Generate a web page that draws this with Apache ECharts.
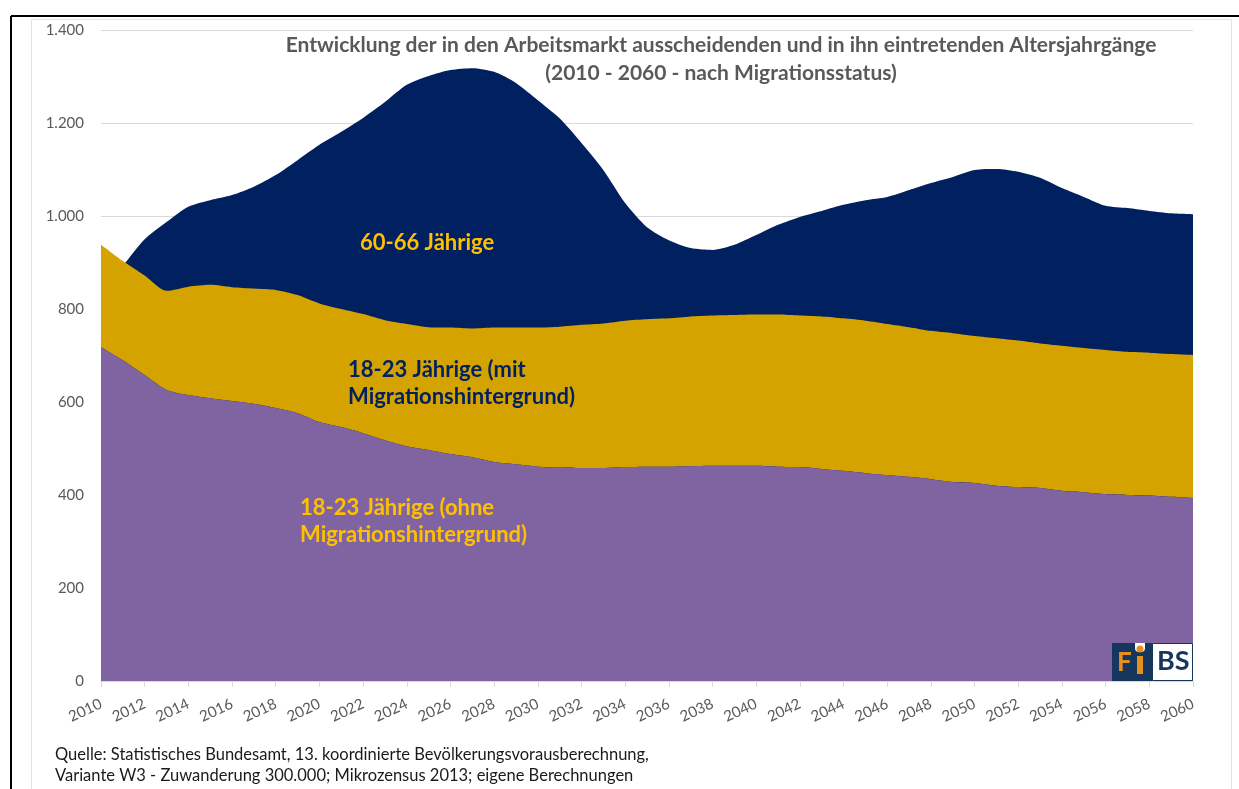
<!DOCTYPE html>
<html>
<head>
<meta charset="utf-8">
<script src="https://cdn.jsdelivr.net/npm/echarts@6/dist/echarts.min.js"></script>
<style>
  html, body { margin: 0; padding: 0; background: #fff; }
  #chart { width: 1239px; height: 789px; }
</style>
</head>
<body>
<div id="chart"></div>
<script>
// Jahre 2010 - 2060
var years = [];
for (var y = 2010; y <= 2060; y++) years.push(String(y));

// 18-23 Jaehrige ohne Migrationshintergrund (Tsd.)
var ohneMig = [718, 690, 658, 626, 615, 608, 602, 596, 587, 576,
  557, 546, 533, 518, 505, 497, 488, 481, 471, 466,
  461, 459, 458, 458, 460, 461, 461, 462, 463, 463,
  463, 461, 460, 456, 452, 447, 443, 439, 434, 428,
  426, 420, 417, 415, 409, 406, 402, 400, 399, 396, 393];

// 18-23 Jaehrige mit Migrationshintergrund (Tsd.)
var mitMig = [220, 213, 214, 213, 233, 244, 245, 248, 254, 254,
  255, 254, 256, 258, 263, 264, 272, 277, 289, 294,
  299, 303, 308, 311, 315, 317, 319, 322, 323, 324,
  325, 327, 326, 328, 328, 328, 325, 322, 319, 320,
  316, 317, 315, 311, 312, 310, 310, 308, 307, 307, 308];

// 60-66 Jaehrige (Tsd.)
var alt6066 = [840, 893, 950, 987, 1020, 1034, 1045, 1063, 1088, 1120,
  1153, 1181, 1211, 1245, 1282, 1301, 1314, 1318, 1310, 1286,
  1249, 1210, 1157, 1099, 1028, 976, 948, 931, 927, 938,
  959, 981, 998, 1011, 1024, 1034, 1041, 1056, 1071, 1084,
  1099, 1101, 1095, 1082, 1060, 1041, 1022, 1017, 1011, 1006, 1004];

var yTicks = [0, 200, 400, 600, 800, 1000, 1200, 1400];

var FONT = 'Lato';
var NAVY = '#00205f';
var GOLD = '#d4a300';
var PURPLE = '#8064a2';
var LABEL_GOLD = '#ffc000';
var GREY = '#595959';

function fmt(v) {
  return String(v).replace(/\B(?=(\d{3})+(?!\d))/g, '.');
}

// Textbaustein fuer graphic
function txt(s, x, y, color, font, align) {
  return {
    type: 'text', z: 100,
    style: { text: s, x: x, y: y, fill: color, font: font, textAlign: align || 'left', textVerticalAlign: 'middle' }
  };
}

var myChart = echarts.init(document.getElementById('chart'));

var option = {
  backgroundColor: '#fff',
  animation: false,
  grid: { left: 101, right: 46, top: 30, bottom: 108 },
  xAxis: {
    type: 'category',
    boundaryGap: false,
    data: years,
    axisLine: { show: true, lineStyle: { color: '#d9d9d9', width: 1 } },
    axisTick: { show: true, interval: 1, length: 6, lineStyle: { color: '#d9d9d9' } },
    axisLabel: {
      interval: 1,
      rotate: 25,
      color: GREY,
      fontFamily: FONT,
      fontSize: 15,
      margin: 22
    },
    splitLine: { show: false }
  },
  yAxis: {
    type: 'value',
    min: yTicks[0],
    max: yTicks[yTicks.length - 1],
    interval: 200,
    axisLine: { show: false },
    axisTick: { show: false },
    axisLabel: {
      color: GREY,
      fontFamily: FONT,
      fontSize: 15,
      margin: 17,
      formatter: function (v) { return fmt(v); }
    },
    splitLine: { show: true, lineStyle: { color: '#d9d9d9', width: 1 } }
  },
  series: [
    {
      name: '60-66 Jährige',
      type: 'line',
      data: alt6066,
      smooth: 0.25,
      showSymbol: false,
      lineStyle: { width: 0 },
      areaStyle: { color: NAVY, opacity: 1 },
      z: 1
    },
    {
      name: '18-23 Jährige (ohne Migrationshintergrund)',
      type: 'line',
      stack: 'jung',
      data: ohneMig,
      smooth: 0.25,
      showSymbol: false,
      lineStyle: { width: 0 },
      areaStyle: { color: PURPLE, opacity: 1 },
      z: 3
    },
    {
      name: '18-23 Jährige (mit Migrationshintergrund)',
      type: 'line',
      stack: 'jung',
      data: mitMig,
      smooth: 0.25,
      showSymbol: false,
      lineStyle: { width: 0 },
      areaStyle: { color: GOLD, opacity: 1 },
      z: 2
    }
  ],
  graphic: [
    // Rahmen
    { type: 'line', shape: { x1: 11, y1: 16, x2: 1239, y2: 16 }, style: { stroke: '#000', lineWidth: 2 } },
    { type: 'line', shape: { x1: 11, y1: 16, x2: 11, y2: 789 }, style: { stroke: '#000', lineWidth: 2 } },
    { type: 'rect', shape: { x: 31.5, y: 19.5, width: 1200, height: 800 }, style: { fill: null, stroke: '#e3e3e3', lineWidth: 1 }, z: -10 },
    // Titel
    txt('Entwicklung der in den Arbeitsmarkt ausscheidenden und in ihn eintretenden Altersjahrgänge', 721, 45, GREY, 'bold 21px ' + FONT, 'center'),
    txt('(2010 - 2060 - nach Migrationsstatus)', 721, 73, GREY, 'bold 21px ' + FONT, 'center'),
    // Beschriftungen der Flaechen
    txt('60-66 Jährige', 360, 243, LABEL_GOLD, 'bold 22px ' + FONT),
    txt('18-23 Jährige (mit', 348, 370, NAVY, 'bold 22px ' + FONT),
    txt('Migrationshintergrund)', 348, 397, NAVY, 'bold 22px ' + FONT),
    txt('18-23 Jährige (ohne', 300, 508, LABEL_GOLD, 'bold 22px ' + FONT),
    txt('Migrationshintergrund)', 300, 535, LABEL_GOLD, 'bold 22px ' + FONT),
    // Quelle
    txt('Quelle: Statistisches Bundesamt, 13. koordinierte Bevölkerungsvorausberechnung,', 55, 755, '#1a1a1a', '16.5px ' + FONT),
    txt('Variante W3 - Zuwanderung 300.000; Mikrozensus 2013; eigene Berechnungen', 55, 776, '#1a1a1a', '16.5px ' + FONT),
    // Logo FiBS
    { type: 'rect', shape: { x: 1112, y: 643, width: 40, height: 38 }, style: { fill: '#17365d' }, z: 100 },
    { type: 'rect', shape: { x: 1152.5, y: 643.5, width: 40, height: 37 }, style: { fill: '#fff', stroke: '#17365d', lineWidth: 1 }, z: 100 },
    { type: 'text', style: { text: 'F', x: 1117, y: 650, fill: '#e8901e', font: 'bold 26px ' + FONT }, z: 101 },
    { type: 'rect', shape: { x: 1135, y: 643, width: 10, height: 9, r: [0, 0, 4, 4] }, style: { fill: '#fff' }, z: 101 },
    { type: 'circle', shape: { cx: 1140, cy: 649, r: 3.5 }, style: { fill: '#e8901e' }, z: 102 },
    { type: 'rect', shape: { x: 1137, y: 656, width: 6, height: 18 }, style: { fill: '#e8901e' }, z: 101 },
    { type: 'text', style: { text: 'BS', x: 1157, y: 648, fill: '#17365d', font: 'bold 27px ' + FONT }, z: 101 }
  ]
};

myChart.setOption(option);
</script>
</body>
</html>
